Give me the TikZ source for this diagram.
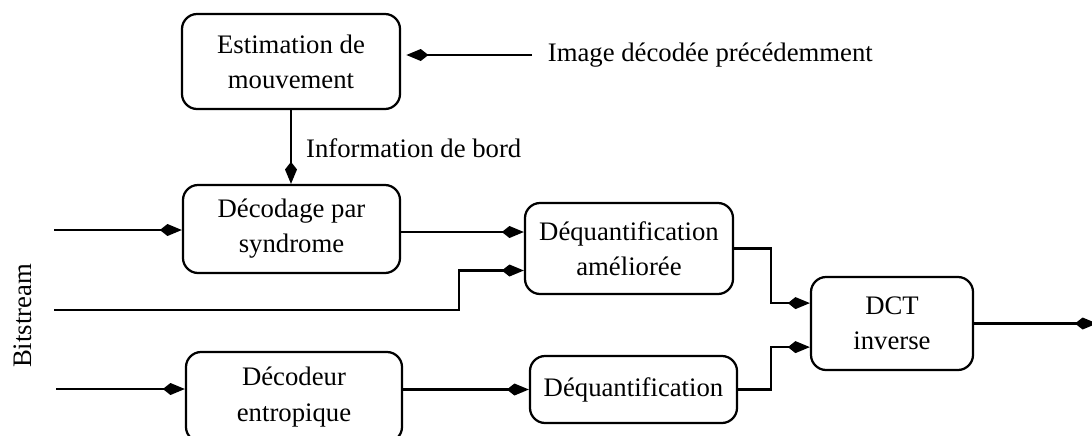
\documentclass[tikz,border=0pt]{standalone}
\usepackage{fontspec}
\setmainfont{Liberation Serif}
\usetikzlibrary{arrows.meta}
\begin{document}
\begin{tikzpicture}[x=0.025cm,y=-0.025cm,line width=1.6pt,
        box/.style={draw,rounded corners=0.38cm,align=center,inner sep=0pt,
            font=\fontsize{19}{25}\selectfont},
        txt/.style={font=\fontsize{19}{25}\selectfont},
        flow/.style={-{Kite[length=0.55cm,width=0.3cm,inset=0.19cm]}}]
        \useasboundingbox(0,0)rectangle(1092,435);

        % blocs
        \node[box,minimum width=5.45cm,minimum height=2.375cm](estim)at(291,61.5){Estimation de\\mouvement};
        \node[box,minimum width=5.425cm,minimum height=2.2cm](syndrome)at(291.5,229){Décodage par\\syndrome};
        \node[box,minimum width=5.2cm,minimum height=2.275cm](dequantam)at(629,248.5){Déquantification\\améliorée};
        \node[box,minimum width=4.05cm,minimum height=2.325cm](dct)at(892,323.5){DCT\\inverse};
        \node[box,minimum width=5.4cm,minimum height=2.25cm](entrop)at(294,397){Décodeur\\entropique};
        \node[box,minimum width=5.175cm,minimum height=1.675cm](dequant)at(633.5,389.5){Déquantification};

        % textes
        \node[txt,anchor=west,inner xsep=10.5pt](imglabel)at(532,55){Image décodée précédemment};
        \node[txt,anchor=base west,inner sep=0pt](bord)at(305,157){Information de bord};
        \node[txt,rotate=90](bits)at(23,316){Bitstream};

        \coordinate(in1)at(54,230);
        \coordinate(in2)at(54,310);
        \coordinate(bend2)at(459,310);
        \coordinate(in3)at(56,389);
        \coordinate(out)at(1097,323.5);

        % fleches
        \draw[flow,shorten >=0.13cm](imglabel.west)--(imglabel.west -| estim.east);
        \draw[flow](estim.south)--(estim.south |- syndrome.north);
        \draw[flow](in1)--(in1 -| syndrome.west);
        \draw[flow](in2)--(bend2)|-([yshift=-0.55cm]dequantam.west);
        \draw[flow](in3)--(in3 -| entrop.west);
        \draw[flow]([yshift=-0.075cm]syndrome.east)--([yshift=-0.075cm]syndrome.east -| dequantam.west);
        \draw[flow](dequant.west -| entrop.east)--(dequant.west);
        \draw[flow](dequantam.east)--++(37,0)|-([yshift=0.51cm]dct.west);
        \draw[flow](dequant.east)--++(33,0)|-([yshift=-0.59cm]dct.west);
        \draw[flow](dct.east)--(out);
    \end{tikzpicture}
\end{document}
